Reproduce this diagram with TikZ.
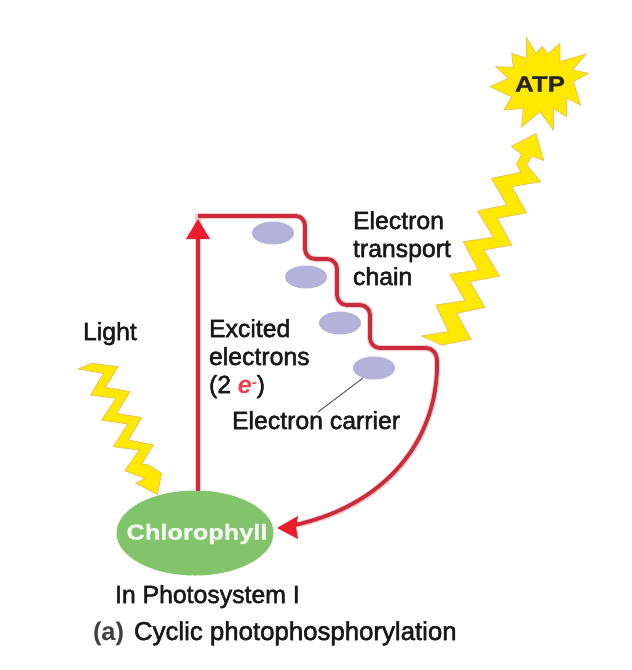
\documentclass[tikz,border=0pt]{standalone}
\usepackage{fontspec}
\setmainfont{Liberation Sans}
\newfontfamily\labelface[FakeBold=2]{Liberation Sans}
\newfontfamily\heavyface{Liberation Sans Bold}
\newfontfamily\wideface[FakeStretch=1.18,FakeBold=1]{Liberation Sans Bold}
\usetikzlibrary{arrows.meta,shapes.geometric}
\definecolor{chainred}{HTML}{CB2B3B}
\definecolor{tipred}{HTML}{EC1C2C}
\definecolor{halo}{HTML}{F6C9CC}
\definecolor{leaf}{HTML}{82C46A}
\definecolor{carrierfill}{HTML}{B4B2D8}
\definecolor{bolt}{HTML}{FFE800}
\definecolor{boltedge}{HTML}{EDC45A}
\tikzset{
  every node/.style={inner sep=0pt, outer sep=0pt},
  txt/.style={anchor=base west, text=black!90, font=\labelface\fontsize{24.8}{28}\selectfont},
  carrier/.style={ellipse, fill=carrierfill, minimum width=42pt, minimum height=23pt},
  flash/.style={fill=bolt, draw=boltedge, line width=0.9pt, line join=miter, miter limit=6},
  haloline/.style={draw=halo, line width=6pt, line join=round},
  redline/.style={draw=chainred, line width=3.8pt, line join=round},
  zoomed/.style={x=0.33333pt, y=-0.33333pt}
}
\begin{document}
\begin{tikzpicture}[x=1pt,y=-1pt]
\useasboundingbox[fill=white] (0,0) rectangle (632,670);

% photosystem and electron carriers
\node[ellipse, fill=leaf, minimum width=157pt, minimum height=85pt] (chl) at (195,533) {};
\node[text=white!92!leaf, font=\wideface\fontsize{21.5}{24}\selectfont] (chltext) at (197,534) {Chlorophyll};
\node[carrier] (c1) at (273,233) {};
\node[carrier] (c2) at (306,277) {};
\node[carrier] (c3) at (340,323) {};
\node[carrier] (c4) at (374,368) {};

% text labels
\node[txt] (etc1) at (353,229) {Electron};
\node[txt] (etc2) at (353,257) {transport};
\node[txt] (etc3) at (353,285) {chain};
\node[txt] (light) at (83,340) {Light};
\node[txt] (ex1) at (209,337) {Excited};
\node[txt] (ex2) at (209,365) {electrons};
\node[txt] (ex3) at (209,393) {(2 \textcolor{tipred!85!white}{\heavyface\itshape e}\raisebox{6pt}{\textcolor{tipred!85!white}{\fontsize{15}{15}\selectfont -}})};
\node[txt] (carrierlabel) at (232,429) {Electron carrier};
\node[txt] (ps) at (115,603) {In Photosystem I};
\node[txt, font=\heavyface\fontsize{25.5}{28}\selectfont, text=black!75] (parta) at (93,640) {(a)};
\node[txt, font=\labelface\fontsize{25.8}{28}\selectfont] (cyclic) at (134,640) {Cyclic photophosphorylation};

% way points of the electron route
\coordinate (top) at (198,216);
\coordinate (tip) at (198,219);
\coordinate (base) at (198,491);
\coordinate (entry) at (277,528);

% leader from the carrier to its label
\draw[draw=black!65, line width=1pt] (363,378) -- (318,412);

% cyclic electron route: pale edge below, red stroke above
\path[haloline] (base) -- (top) -- (296,216) to[out=0,in=90] (305,226) -- (305,249)
  to[out=-90,in=180] (315,259) -- (327,259) to[out=0,in=90] (337,269) -- (337,295)
  to[out=-90,in=180] (347,305) -- (360,305) to[out=0,in=90] (370,315) -- (370,338)
  to[out=-90,in=180] (380,348) -- (426,348) to[out=0,in=90] (437,360)
  .. controls (439,440) and (385,507) .. (295,525);
\draw[redline, -{Triangle[length=20pt,width=23pt,color=tipred]}] (base) -- (tip);
\draw[redline] (top) -- (296,216) to[out=0,in=90] (305,226) -- (305,249)
  to[out=-90,in=180] (315,259) -- (327,259) to[out=0,in=90] (337,269) -- (337,295)
  to[out=-90,in=180] (347,305) -- (360,305) to[out=0,in=90] (370,315) -- (370,338)
  to[out=-90,in=180] (380,348) -- (426,348) to[out=0,in=90] (437,360)
  .. controls (439,440) and (385,507) .. (290,526);
\fill[tipred] (entry) -- (298,516) -- (296,527) -- (298,539) -- cycle;

% energy bolts and the ATP burst
\begin{scope}[shift={(410,30)}, zoomed]
\draw[flash] (350,25) -- (378,70) -- (397,50) -- (413,72) -- (450,40) -- (450,95)
  -- (528,72) -- (488,120) -- (535,130) -- (490,155) -- (512,225) -- (470,205)
  -- (470,260) -- (430,235) -- (430,300) -- (390,245) -- (335,290) -- (340,235)
  -- (282,240) -- (305,200) -- (240,170) -- (295,145) -- (258,110) -- (310,112)
  -- (305,70) -- (350,85) -- cycle;
\draw[flash] (35,918) -- (115,905) -- (78,825) -- (165,812) -- (120,733) -- (205,720)
  -- (160,635) -- (250,622) -- (203,543) -- (290,525) -- (245,445) -- (333,427)
  -- (320,403) -- (335,373) -- (305,349) -- (378,311) -- (401,391) -- (365,378)
  -- (350,405) -- (392,455) -- (305,470) -- (350,548) -- (262,565) -- (305,645)
  -- (222,660) -- (268,738) -- (180,755) -- (225,832) -- (140,850) -- (183,928)
  -- (95,945) -- cycle;
\end{scope}
\node[font=\wideface\fontsize{22}{24}\selectfont, text=black!85] (atp) at (540,84) {ATP};
\begin{scope}[shift={(60,350)}, zoomed]
\draw[flash] (55,57) -- (95,40) -- (175,50) -- (135,112) -- (210,125) -- (170,190)
  -- (245,203) -- (205,270) -- (280,285) -- (245,342) -- (265,345) -- (305,370)
  -- (292,433) -- (228,400) -- (255,385) -- (195,362) -- (238,300) -- (160,290)
  -- (203,222) -- (125,210) -- (168,145) -- (92,135) -- (130,70) -- cycle;
\end{scope}
\end{tikzpicture}
\end{document}
